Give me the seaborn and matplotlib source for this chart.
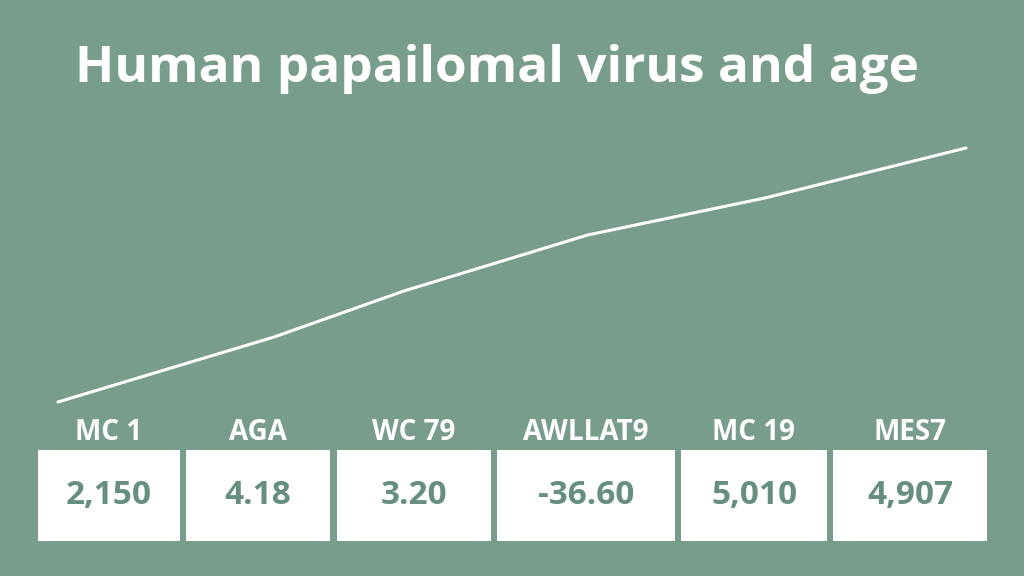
import matplotlib
matplotlib.use('Agg')
import matplotlib.pyplot as plt
import seaborn as sns

# Data
ages = [15, 25, 31, 39.5, 47.7, 57]
prevalence = [5.0, 11.5, 16.1, 21.7, 25.4, 30.4]
categories = ["MC 1", "AGA", "WC 79", "AWLLAT9", "MC 19", "MES7"]
values = ["2,150", "4.18", "3.20", "-36.60", "5,010", "4,907"]

# Layout (pixels in a 1024x576 canvas)
box_left = [38, 186, 337, 497, 681, 833]
box_right = [180, 330, 491, 675, 827, 987]
box_top, box_bottom = 450, 541

BG = '#789d8a'
TXT = '#66907d'
FONT = ['Open Sans', 'DejaVu Sans']

sns.set_theme(style='white')
plt.rcParams['font.family'] = FONT

fig = plt.figure(figsize=(10.24, 5.76), dpi=100, facecolor=BG)

# line chart
ax = fig.add_axes([40 / 1024, 1 - 420 / 576, 950 / 1024, 290 / 576])
ax.set_facecolor('none')
sns.lineplot(x=ages, y=prevalence, ax=ax, color='white', lw=2.2)
ax.set_xlim(14.17, 58.11)
ax.set_ylim(3.2, 32.2)
ax.axis('off')

# value boxes along the bottom
tab = fig.add_axes([0, 0, 1, 1])
tab.set_facecolor('none')
tab.set_xlim(0, 1024)
tab.set_ylim(576, 0)
tab.axis('off')
widths = [r - l for l, r in zip(box_left, box_right)]
tab.bar(box_left, box_bottom - box_top, width=widths, bottom=box_top,
        align='edge', color='white', linewidth=0)
for l, w, cat, val in zip(box_left, widths, categories, values):
    cx = l + w / 2
    tab.text(cx, 433, cat, ha='center', va='center', color='white',
             fontsize=20, fontweight='bold')
    tab.text(cx, 496, val, ha='center', va='center', color=TXT,
             fontsize=24, fontweight='bold')

tab.text(75, 82, "Human papailomal virus and age", ha='left', va='baseline',
         color='white', fontsize=37, fontweight='bold')

fig.savefig('out.png', dpi=100, facecolor=BG)
